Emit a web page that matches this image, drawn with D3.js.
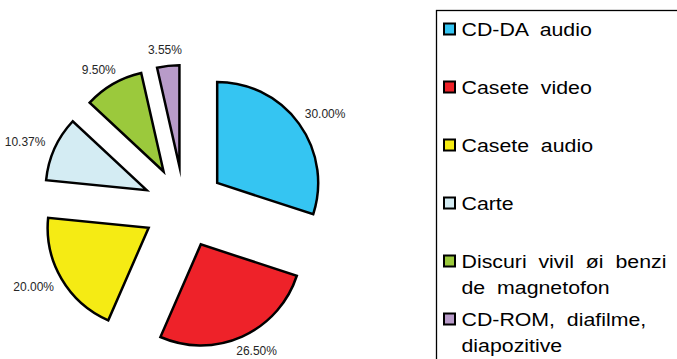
<!DOCTYPE html>
<html>
<head>
<meta charset="utf-8">
<script src="https://cdn.jsdelivr.net/npm/d3@7"></script>
<style>
    body { margin: 0; background: #fff; }
    svg { display: block; }
</style>
</head>
<body>
<div id="chart"></div>
<script>
// data
const categories = ['CD-DA audio', 'Casete video', 'Casete audio', 'Carte',
    'Discuri vivil øi benzi de magnetofon', 'CD-ROM, diafilme, diapozitive'];
const values = [30.00, 26.50, 20.00, 10.37, 9.50, 3.55];
const valueLabels = ['30.00%', '26.50%', '20.00%', '10.37%', '9.50%', '3.55%'];
const colors = ['#35c5f2', '#ee2229', '#f5eb14', '#d4ecf3', '#9bc93c', '#b89bc9'];

let width = 677,
    height = 359;

let svg = d3.select('#chart').append('svg')
    .attr('width', width)
    .attr('height', height);

// pie
let cx = 184, cy = 207, radius = 101, explode = 41;

let color = d3.scaleOrdinal().domain(categories).range(colors);
let pie = d3.pie().sort(null).value(d => d.value);
let arc = d3.arc().innerRadius(0).outerRadius(radius);

let slices = pie(categories.map((c, i) => ({name: c, value: values[i], label: valueLabels[i]})));

let g = svg.append('g').attr('transform', 'translate(' + cx + ',' + cy + ')');

slices.forEach(s => {
    let mid = (s.startAngle + s.endAngle) / 2;
    s.dx = Math.sin(mid);
    s.dy = -Math.cos(mid);
    s.ox = s.dx * explode;
    s.oy = s.dy * explode;
});

g.selectAll('path.slice')
    .data(slices)
    .enter().append('path')
    .attr('class', 'slice')
    .attr('transform', d => 'translate(' + d.ox + ',' + d.oy + ')')
    .attr('d', arc)
    .attr('fill', d => color(d.data.name))
    .attr('stroke', '#000')
    .attr('stroke-width', 2.5)
    .attr('stroke-linejoin', 'miter')
    .attr('stroke-miterlimit', 10);

// value labels just outside each slice
let labelR = 113;
slices.forEach(s => {
    let t = g.append('text')
        .attr('font-family', 'Liberation Sans, Arial, sans-serif')
        .attr('font-size', 12)
        .attr('fill', '#262626')
        .attr('text-anchor', 'middle')
        .attr('dy', '0.35em')
        .text(s.data.label);
    let hw = t.node().getComputedTextLength() / 2;
    let x = s.ox + s.dx * labelR + s.dx * hw;
    let y = s.oy + s.dy * labelR + s.dy * 4.5;
    let maxY = height - 8 - cy;
    if (y > maxY) {
        // slide along the circle to stay inside
        let rx = x - s.ox, ry = y - s.oy;
        let d = Math.sqrt(rx * rx + ry * ry);
        let ny = maxY - s.oy;
        x = s.ox + Math.sign(rx) * Math.sqrt(d * d - ny * ny);
        y = maxY;
    }
    t.attr('x', x).attr('y', y);
});

// legend
let legendX = 436.5, legendY = 10.5;
svg.append('rect')
    .attr('x', legendX).attr('y', legendY)
    .attr('width', 400).attr('height', 400)
    .attr('fill', 'none')
    .attr('stroke', '#000')
    .attr('stroke-width', 1.3);

let fontSize = 18.7, stretch = 1.14, textX = 461.5, maxW = 210;
let firstBase = 35.5, step = 58, lineH = 26;

let legend = svg.append('g');

categories.forEach((name, i) => {
    let base = firstBase + i * step;
    legend.append('rect')
        .attr('x', 444).attr('y', base - 12)
        .attr('width', 11).attr('height', 11)
        .attr('fill', color(name))
        .attr('stroke', '#000')
        .attr('stroke-width', 2);

    // wrap words to the legend width
    let words = name.split(' ');
    let lines = [];
    let line = [];
    let probe = legend.append('text')
        .attr('font-family', 'Liberation Sans, Arial, sans-serif')
        .attr('font-size', fontSize)
        .style('white-space', 'pre');
    words.forEach(w => {
        let test = line.concat([w]).join('  ');
        probe.text(test);
        if (line.length && probe.node().getComputedTextLength() * stretch > maxW) {
            lines.push(line.join('  '));
            line = [w];
        } else {
            line.push(w);
        }
    });
    lines.push(line.join('  '));
    probe.remove();

    lines.forEach((l, j) => {
        legend.append('text')
            .attr('transform', 'translate(' + textX + ',' + (base + j * lineH) + ') scale(' + stretch + ',1)')
            .attr('font-family', 'Liberation Sans, Arial, sans-serif')
            .attr('font-size', fontSize)
            .attr('fill', '#000')
            .style('white-space', 'pre')
            .text(l);
    });
});
</script>
</body>
</html>
